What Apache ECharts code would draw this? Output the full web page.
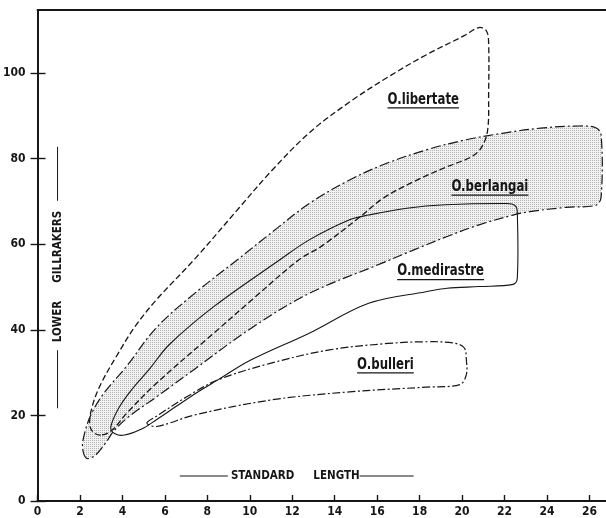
<!DOCTYPE html>
<html><head><meta charset="utf-8">
<script src="https://cdn.jsdelivr.net/npm/echarts@6/dist/echarts.min.js"></script>
<style>html,body{margin:0;padding:0;background:#fff}#c{width:606px;height:518px}</style>
</head><body><div id="c"></div>
<script>
// ---- tick labels ----
const xTicks = [0,2,4,6,8,10,12,14,16,18,20,22,24,26];
const yTicks = [0,20,40,60,80,100];

// ---- outlines (standard length, lower gillrakers) ----
const libertate = [[2.98,15.4],[2.6,16.2],[2.45,18.2],[2.6,22.5],[3.0,27.5],[3.8,34.5],[4.6,40.8],[5.6,47],[7.4,56.5],[9.5,68.5],[11.0,77],[12.8,86],[14.7,93.2],[16.5,99],[18.3,104.2],[20.1,108.7],[20.8,110.6],[21.15,109.8],[21.25,107],[21.25,95],[21.2,86.5],[20.9,82.5],[20.4,80.3],[19.3,78.1],[17.8,74.8],[16.3,70.8],[15.2,66.4],[13.4,59.6],[12.3,56.3],[10.1,47],[8.3,39.2],[5.6,27.5],[4.2,20.5],[3.5,16.5]];
const berlangai = [[2.3,10],[2.12,12.5],[2.2,15.5],[2.5,20],[3.1,25],[4.2,31.5],[5.6,40.5],[7.4,48.5],[9.4,56.3],[11.1,63],[12.8,69.5],[14.7,75],[16.3,78.6],[18.3,82],[20.1,84.3],[21.9,85.9],[23.7,87.1],[25.5,87.6],[26.3,87.2],[26.55,85.5],[26.55,71],[26.3,69.1],[24.9,68.6],[23.2,67.6],[22.4,66.8],[20.8,64.5],[19.3,61.8],[17.7,58.6],[16.2,55.5],[12.8,48.5],[10.1,40.5],[7.4,30.8],[5.6,24.3],[4.3,19.7],[3.6,16.4],[3.2,13.5],[2.7,10.6]];
const medirastre = [[3.45,17.2],[3.8,21.5],[4.4,25.8],[5.3,31],[6.2,36.5],[8.3,45.4],[11.4,56.3],[12.8,61],[14.7,65.7],[15.6,66.8],[17.4,68.4],[19.2,69.2],[22.1,69.5],[22.5,69],[22.6,67.5],[22.6,52],[22.4,50.6],[20.8,50.1],[19.3,49.7],[18.3,48.9],[15.6,46.2],[12.8,39.2],[10.0,32.8],[8.5,28.3],[7.5,25.3],[6.5,22],[5.6,19],[4.9,16.8],[4.1,15.4],[3.65,15.7]];
const bulleri = [[5.15,18.2],[5.6,19.8],[7.05,24.4],[8.5,28.3],[11.0,32.2],[13.75,35.3],[16.5,36.8],[18.3,37.2],[19.6,36.9],[20.1,35.8],[20.2,33],[20.2,29.5],[19.9,27.2],[18.3,26.6],[14.7,25.5],[11.0,23.6],[7.4,20.1],[5.6,17.4]];

const speciesNames = ['O.libertate','O.berlangai','O.medirastre','O.bulleri'];
const labelAnchors = [[18.17,93.7],[21.31,73.3],[18.99,53.6],[16.39,31.8]];

const xTitle = ['STANDARD','LENGTH'];
const yTitle = ['LOWER','GILLRAKERS'];

// ---- style ----
const INK = '#161616';
const NARROW = "'DejaVu Sans Condensed','Liberation Sans Narrow',sans-serif";

const pc = document.createElement('canvas');
pc.width = 2; pc.height = 2;
const pg = pc.getContext('2d');
pg.fillStyle = '#f2f2f2'; pg.fillRect(0,0,2,2);
pg.fillStyle = '#b4b4b4'; pg.fillRect(0,0,1,1);
const stipple = {image: pc, repeat: 'repeat'};

function outline(name, pts, dash, width, fill, z) {
  return {
    type: 'custom', name: name, z: z,
    coordinateSystem: 'cartesian2d',
    data: pts, encode: {x: 0, y: 1},
    clip: true, silent: true,
    renderItem: function (params, api) {
      if (params.dataIndex !== 0) return null;
      const points = pts.map(p => api.coord(p));
      return {
        type: 'polygon',
        shape: {points: points, smooth: 0.35},
        style: {fill: fill || 'none', stroke: INK, lineWidth: width, lineDash: dash}
      };
    }
  };
}

const LABEL_SX = 0.87;
const mctx = document.createElement('canvas').getContext('2d');
const labelFont = 'bold 15px ' + NARROW;
mctx.font = labelFont;

const labelSeries = {
  type: 'custom', name: 'labels', z: 10,
  coordinateSystem: 'cartesian2d',
  data: labelAnchors, encode: {x: 0, y: 1}, silent: true,
  renderItem: function (params, api) {
    const p = api.coord([api.value(0), api.value(1)]);
    const txt = speciesNames[params.dataIndex];
    const w = mctx.measureText(txt).width * LABEL_SX;
    return {
      type: 'group',
      children: [
        {type: 'text', x: p[0], y: p[1], scaleX: LABEL_SX,
         style: {text: txt, font: labelFont, fill: INK, align: 'center', verticalAlign: 'middle'}},
        {type: 'line', shape: {x1: p[0] - w/2, y1: p[1] + 8, x2: p[0] + w/2, y2: p[1] + 8},
         style: {stroke: INK, lineWidth: 1.3}}
      ]
    };
  }
};

const tickFont = {fontFamily: NARROW, fontWeight: 'bold', fontSize: 12, color: INK};
const richLine = (w) => ({width: w, height: 1, backgroundColor: INK});

const option = {
  backgroundColor: '#fff',
  animation: false,
  grid: {left: 36, right: 0, top: 10, bottom: 17, containLabel: false},
  xAxis: [{
    type: 'value', min: 0, max: 26.78, position: 'bottom',
    axisLine: {show: true, onZero: false, lineStyle: {color: INK, width: 2}},
    axisTick: {show: true, inside: true, length: 6, customValues: xTicks, lineStyle: {color: INK, width: 1.4}},
    axisLabel: {customValues: xTicks, margin: 5, ...tickFont},
    splitLine: {show: false},
    name: '{ln1|}{g|}' + xTitle[0] + '{sp|}' + xTitle[1] + '{ln2|}',
    nameLocation: 'middle', nameGap: -31,
    nameTextStyle: {fontFamily: NARROW, fontWeight: 'bold', fontSize: 11.5, color: INK,
      padding: [0, 50, 0, 0],
      rich: {ln1: richLine(48), ln2: richLine(54), g: {width: 3}, sp: {width: 19}}}
  }, {
    type: 'value', min: 0, max: 26.78, position: 'top',
    axisLine: {show: true, onZero: false, lineStyle: {color: INK, width: 2}},
    axisTick: {show: false}, axisLabel: {show: false}, splitLine: {show: false}
  }],
  yAxis: [{
    type: 'value', min: 0, max: 114.7, position: 'left',
    axisLine: {show: true, onZero: false, lineStyle: {color: INK, width: 2}},
    axisTick: {show: true, inside: false, length: 7, customValues: yTicks, lineStyle: {color: INK, width: 1.4}},
    axisLabel: {customValues: yTicks, margin: 12, ...tickFont},
    splitLine: {show: false},
    name: '{ln1|}{g|}' + yTitle[0] + '{sp|}' + yTitle[1] + '{g2|}{ln2|}',
    nameLocation: 'middle', nameRotate: 90, nameGap: -26,
    nameTextStyle: {fontFamily: NARROW, fontWeight: 'bold', fontSize: 11.5, color: INK,
      padding: [0, 44, 0, 0],
      rich: {ln1: richLine(58), ln2: richLine(54), g: {width: 8}, g2: {width: 10}, sp: {width: 18}}}
  }, {
    type: 'value', min: 0, max: 114.7, position: 'left',
    axisLine: {show: false},
    axisTick: {show: true, inside: true, length: 8, customValues: yTicks, lineStyle: {color: INK, width: 1.4}},
    axisLabel: {show: false}, splitLine: {show: false}
  }],
  series: [
    outline('O.berlangai', berlangai, [10, 3, 2, 3], 1.2, stipple, 2),
    outline('O.libertate', libertate, [6, 3], 1.3, null, 3),
    outline('O.medirastre', medirastre, null, 1.1, null, 4),
    outline('O.bulleri', bulleri, [8, 2.5, 2, 2.5], 1.2, null, 5),
    labelSeries
  ]
};

const chart = echarts.init(document.getElementById('c'), null, {renderer: 'canvas'});
chart.setOption(option);
</script>
</body></html>
